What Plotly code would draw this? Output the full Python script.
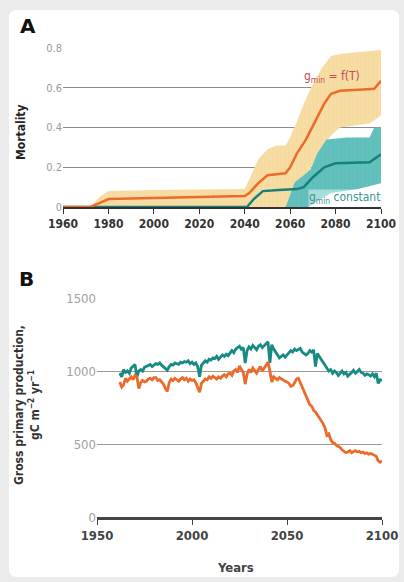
import plotly.graph_objects as go

W, H = 404, 582

# ---------------- Panel A data (mortality) ----------------
a_years_ft = [1960, 1972, 1976, 1980, 1985, 2000, 2020, 2040, 2042, 2046, 2050, 2054, 2058, 2060,
              2063, 2067, 2071, 2075, 2078, 2082, 2090, 2097, 2100]
a_mort_ft = [0, 0, 0.02, 0.04, 0.042, 0.045, 0.048, 0.055, 0.07, 0.12, 0.16, 0.165, 0.17, 0.2,
             0.27, 0.34, 0.43, 0.52, 0.57, 0.585, 0.59, 0.595, 0.635]

a_band_ft_up_years = [1972, 1976, 1980, 2000, 2040, 2042, 2046, 2050, 2054, 2058, 2060, 2063, 2066,
                      2070, 2074, 2078, 2082, 2090, 2100]
a_band_ft_up = [0, 0.05, 0.08, 0.085, 0.09, 0.14, 0.24, 0.29, 0.31, 0.31, 0.35, 0.43, 0.52,
                0.62, 0.70, 0.76, 0.77, 0.78, 0.79]
a_band_ft_lo_years = [1972, 2058, 2062, 2066, 2070, 2074, 2078, 2082, 2095, 2100]
a_band_ft_lo = [0, 0, 0.03, 0.12, 0.22, 0.30, 0.36, 0.40, 0.42, 0.46]

a_years_c = [1960, 2041, 2044, 2048, 2055, 2063, 2066, 2070, 2075, 2080, 2095, 2100]
a_mort_c = [0, 0, 0.04, 0.08, 0.085, 0.09, 0.10, 0.15, 0.20, 0.22, 0.225, 0.265]

a_band_c_up_years = [2058, 2060, 2062, 2066, 2069, 2072, 2076, 2085, 2095, 2097, 2100]
a_band_c_up = [0, 0.06, 0.125, 0.16, 0.19, 0.27, 0.34, 0.35, 0.35, 0.40, 0.40]
a_band_c_lo_years = [2058, 2068, 2072, 2078, 2090, 2100]
a_band_c_lo = [0, 0, 0.03, 0.07, 0.09, 0.12]

a_xticks = [1960, 1980, 2000, 2020, 2040, 2060, 2080, 2100]
a_yticks = [0, 0.2, 0.4, 0.6, 0.8]
a_ylabels = ["0", "0.2", "0.4", "0.6", "0.8"]

# ---------------- Panel B data (GPP) ----------------
b_years = list(range(1962, 2101))
b_gpp_const = [
    985, 960, 1010, 990, 1000, 985, 1020, 1030, 1045, 960,            # 1962-1971
    1000, 1010, 1000, 1025, 1030, 1040, 1045, 1030, 1040, 1050,       # 1972-1981
    1045, 1055, 1040, 1030, 1020, 1005, 1030, 1045, 1040, 1055,       # 1982-1991
    1050, 1045, 1060, 1055, 1065, 1060, 1070, 1050, 1060, 1045,       # 1992-2001
    1055, 1030, 960, 1040, 1055, 1070, 1060, 1080, 1075, 1090,        # 2002-2011
    1085, 1100, 1080, 1095, 1110, 1100, 1115, 1105, 1120, 1140,       # 2012-2021
    1125, 1150, 1160, 1170, 1150, 1160, 1055, 1140, 1165, 1150,       # 2022-2031
    1175, 1160, 1145, 1170, 1180, 1160, 1175, 1190, 1200, 1055,       # 2032-2041
    1180, 1150, 1130, 1110, 1090, 1100, 1110, 1095, 1110, 1125,       # 2042-2051
    1140, 1130, 1150, 1140, 1145, 1155, 1130, 1120, 1110, 1120,       # 2052-2061
    1140, 1130, 1145, 1030, 1120, 1100, 1080, 1055, 1040, 1020,       # 2062-2071
    1000, 1010, 985, 1000, 990, 970, 985, 1000, 980, 990,             # 2072-2081
    965, 975, 990, 1005, 985, 995, 1010, 990, 985, 970,               # 2082-2091
    980, 975, 965, 980, 960, 985, 915, 940, 935,                      # 2092-2100
]
b_gpp_ft = [
    925, 890, 905, 950, 930, 945, 960, 940, 970, 960,                 # 1962-1971
    880, 920, 935, 925, 930, 945, 950, 940, 955, 955,                 # 1972-1981
    935, 940, 925, 910, 880, 860, 920, 945, 935, 950,                 # 1982-1991
    940, 930, 945, 955, 940, 950, 930, 945, 935, 940,                 # 1992-2001
    920, 880, 855, 915, 930, 945, 940, 960, 950, 965,                 # 2002-2011
    955, 945, 960, 950, 965, 975, 960, 980, 985, 970,                 # 2012-2021
    1000, 1010, 990, 1035, 1010, 990, 910, 980, 1010, 990,            # 2022-2031
    1020, 1000, 985, 1010, 1030, 1000, 1020, 1045, 1060, 1000,        # 2032-2041
    925, 960, 950, 940, 955, 945, 935, 930, 925, 915,                 # 2042-2051
    895, 900, 920, 945, 950, 920, 880, 850, 820, 790,                 # 2052-2061
    770, 760, 730, 720, 700, 680, 660, 640, 610, 560,                 # 2062-2071
    570, 530, 510, 505, 490, 485, 475, 460, 450, 440,                 # 2072-2081
    445, 455, 440, 450, 455, 445, 450, 440, 445, 435,                 # 2082-2091
    440, 430, 435, 430, 425, 415, 385, 375, 385,                      # 2092-2100
]
b_xticks = [1950, 2000, 2050, 2100]
b_yticks = [0, 500, 1000, 1500]

ORANGE = "#ec6a2a"
TEAL_LINE = "#17807b"
TEAL_BAND = "#63c1bd"
YELLOW_BAND = "#f7dda3"
FONT = "DejaVu Sans Condensed"

fig = go.Figure()

# Panel A bands
fig.add_trace(go.Scatter(
    x=a_band_ft_up_years + a_band_ft_lo_years[::-1],
    y=a_band_ft_up + a_band_ft_lo[::-1],
    fill="toself", mode="none", fillcolor=YELLOW_BAND,
    fillpattern=dict(shape="|", bgcolor=YELLOW_BAND, fgcolor="#efcf88", size=4, solidity=0.15),
    xaxis="x", yaxis="y", hoverinfo="skip"))
fig.add_trace(go.Scatter(
    x=a_band_c_up_years + a_band_c_lo_years[::-1],
    y=a_band_c_up + a_band_c_lo[::-1],
    fill="toself", mode="none", fillcolor=TEAL_BAND,
    fillpattern=dict(shape="|", bgcolor=TEAL_BAND, fgcolor="#4fb2ae", size=4, solidity=0.15),
    xaxis="x", yaxis="y", hoverinfo="skip"))
fig.add_trace(go.Scatter(x=a_years_c, y=a_mort_c, mode="lines",
                         line=dict(color=TEAL_LINE, width=2.5), xaxis="x", yaxis="y"))
fig.add_trace(go.Scatter(x=a_years_ft, y=a_mort_ft, mode="lines",
                         line=dict(color=ORANGE, width=2.5), xaxis="x", yaxis="y"))

# Panel B lines
fig.add_trace(go.Scatter(x=b_years, y=b_gpp_const, mode="lines",
                         line=dict(color="#188a84", width=2.8), xaxis="x2", yaxis="y2"))
fig.add_trace(go.Scatter(x=b_years, y=b_gpp_ft, mode="lines",
                         line=dict(color=ORANGE, width=2.8), xaxis="x2", yaxis="y2"))

def px_x(p):
    return p / W

def px_y(p):
    return 1 - p / H

# rounded white card
x0, x1, y0, y1 = px_x(9), px_x(399), px_y(577), px_y(10)
rx, ry = 8 / W, 8 / H
card = (f"M {x0+rx},{y1} L {x1-rx},{y1} Q {x1},{y1} {x1},{y1-ry} "
        f"L {x1},{y0+ry} Q {x1},{y0} {x1-rx},{y0} L {x0+rx},{y0} "
        f"Q {x0},{y0} {x0},{y0+ry} L {x0},{y1-ry} Q {x0},{y1} {x0+rx},{y1} Z")

fig.update_layout(
    width=W, height=H,
    margin=dict(l=0, r=0, t=0, b=0, pad=0, autoexpand=False),
    paper_bgcolor="#ebebeb",
    plot_bgcolor="rgba(0,0,0,0)",
    showlegend=False,
    font=dict(family=FONT),
    shapes=[dict(type="path", path=card, xref="paper", yref="paper",
                 fillcolor="white", line=dict(width=0), layer="below")],
    xaxis=dict(domain=[px_x(63), px_x(381)], range=[1960, 2100], tickvals=a_xticks,
               showgrid=False, zeroline=False, showline=True, linecolor="#333", linewidth=2,
               ticks="outside", ticklen=5, tickwidth=1.2, tickcolor="#333",
               tickfont=dict(family=FONT, size=12, color="#333", weight="bold"),
               anchor="y", fixedrange=True, automargin=False),
    yaxis=dict(domain=[px_y(207), px_y(48)], range=[0, 0.8], tickvals=a_yticks,
               ticktext=a_ylabels, showgrid=True, gridcolor="#8c8c8c", gridwidth=1.3,
               zeroline=False, showline=False, ticks="",
               tickfont=dict(family=FONT, size=11, color="#9a9a9a"),
               anchor="x", fixedrange=True, automargin=False),
    xaxis2=dict(domain=[px_x(97), px_x(382)], range=[1950, 2100], tickvals=b_xticks,
                showgrid=False, zeroline=False, showline=True, linecolor="#444", linewidth=2.5,
                ticks="outside", ticklen=5, tickwidth=1.2, tickcolor="#444",
                tickfont=dict(family=FONT, size=13, color="#444", weight="bold"),
                anchor="y2", fixedrange=True, automargin=False),
    yaxis2=dict(domain=[px_y(517), px_y(298)], range=[0, 1500], tickvals=b_yticks,
                showgrid=True, gridcolor="#9a9a9a", gridwidth=1.3,
                zeroline=False, showline=False, ticks="",
                tickfont=dict(family=FONT, size=13, color="#a0a0a0"),
                anchor="x2", fixedrange=True, automargin=False),
    annotations=[
        dict(text="<b>A</b>", x=px_x(18), y=px_y(26), xref="paper", yref="paper",
             xanchor="left", yanchor="middle", showarrow=False,
             font=dict(family="DejaVu Sans", size=20, color="#111")),
        dict(text="<b>B</b>", x=px_x(17), y=px_y(279), xref="paper", yref="paper",
             xanchor="left", yanchor="middle", showarrow=False,
             font=dict(family="DejaVu Sans", size=20, color="#111")),
        dict(text="<b>Mortality</b>", x=px_x(21), y=px_y(132), xref="paper", yref="paper",
             xanchor="center", yanchor="middle", textangle=-90, showarrow=False,
             font=dict(family=FONT, size=12, color="#222")),
        dict(text="<b>Years</b>", x=px_x(236), y=px_y(567), xref="paper", yref="paper",
             xanchor="center", yanchor="middle", showarrow=False,
             font=dict(family=FONT, size=13, color="#444")),
        dict(text="g<sub>min</sub> = f(T)", x=2091.5, y=0.655, xref="x", yref="y",
             xanchor="right", yanchor="middle", showarrow=False,
             font=dict(family=FONT, size=12, color="#c24a5a")),
        dict(text="g<sub>min</sub> constant", x=2100, y=0.045, xref="x", yref="y",
             xanchor="right", yanchor="middle", showarrow=False,
             bgcolor="rgba(255,255,255,0.45)", borderpad=0,
             font=dict(family=FONT, size=12, color="#3a9592")),
        dict(text="<b>Gross primary production,</b><br><b>gC m<sup>−2</sup> yr<sup>−1</sup></b>",
             x=px_x(27), y=px_y(405), xref="paper", yref="paper",
             xanchor="center", yanchor="middle", textangle=-90, showarrow=False,
             font=dict(family=FONT, size=12, color="#333")),
    ],
)

fig.write_html(
    "out.html",
    config={"displayModeBar": False},
    post_script="document.body.style.margin='0';document.body.style.overflow='hidden';",
)
